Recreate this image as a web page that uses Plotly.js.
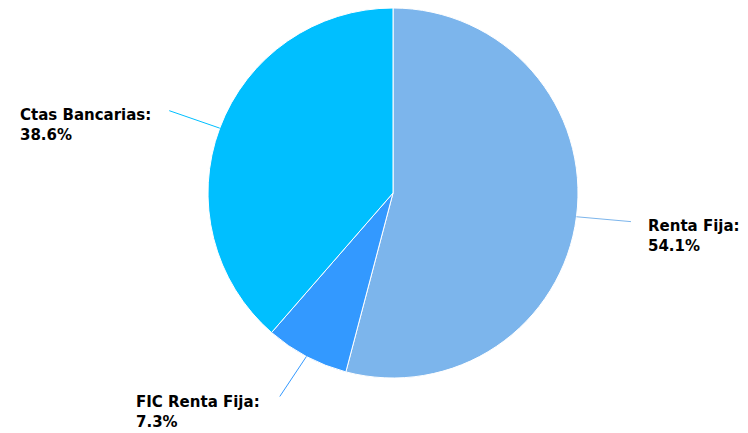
<!DOCTYPE html>
<html>
<head>
<meta charset="utf-8">
<script src="https://cdn.plot.ly/plotly-3.0.1.min.js"></script>
<style>html,body{margin:0;padding:0;background:#fff;}#chart{width:748px;height:433px;}</style>
</head>
<body>
<div id="chart"></div>
<script>
// Data
const categories = ["Renta Fija", "FIC Renta Fija", "Ctas Bancarias"];
const values = [54.1, 7.3, 38.6];
const colors = ["#7cb5ec", "#3399ff", "#00bfff"];

// Label styling (pixel offsets for connectors and text boxes)
const connectorOffsets = [[56, 5], [-28, 42], [-52, -18]];
const labelBoxes = [[646, 215], [134, 391], [18, 104]];

const W = 748, H = 433;
const M = {l: 208, r: 170, t: 8, b: 55};
const PW = W - M.l - M.r, PH = H - M.t - M.b;
function px2paperX(px) { return (px - M.l) / PW; }
function px2paperY(py) { return 1 - (py - M.t) / PH; }

const total = values.reduce((a, b) => a + b, 0);
const annotations = [];
let cum = 0;
values.forEach((v, i) => {
  const mid = (cum + v / 2) / total * 2 * Math.PI;
  cum += v;
  const ex = 0.5 + 0.5 * Math.sin(mid);
  const ey = 0.5 + 0.5 * Math.cos(mid);
  annotations.push({
    xref: 'paper', yref: 'paper', x: ex, y: ey,
    text: ' ', font: {size: 1},
    showarrow: true, arrowhead: 0, arrowwidth: 1, arrowcolor: colors[i],
    ax: connectorOffsets[i][0], ay: connectorOffsets[i][1],
    standoff: 0, startstandoff: 0
  });
  const pct = (v / total * 100).toFixed(1) + '%';
  annotations.push({
    xref: 'paper', yref: 'paper',
    x: px2paperX(labelBoxes[i][0]), y: px2paperY(labelBoxes[i][1]),
    xanchor: 'left', yanchor: 'top', align: 'left', showarrow: false,
    text: '<b>' + categories[i] + ':</b><br><b>' + pct + '</b>',
    font: {family: 'DejaVu Sans, sans-serif', size: 15, color: '#000'}
  });
});

const data = [{
  type: 'pie',
  labels: categories,
  values: values,
  sort: false,
  direction: 'clockwise',
  rotation: 0,
  marker: {colors: colors, line: {color: '#ffffff', width: 1}},
  textinfo: 'none',
  hoverinfo: 'label+percent',
  showlegend: false
}];

const layout = {
  width: W, height: H,
  margin: M,
  paper_bgcolor: '#fff',
  plot_bgcolor: '#fff',
  showlegend: false,
  annotations: annotations
};

Plotly.newPlot('chart', data, layout, {displayModeBar: false, staticPlot: true});
</script>
</body>
</html>
